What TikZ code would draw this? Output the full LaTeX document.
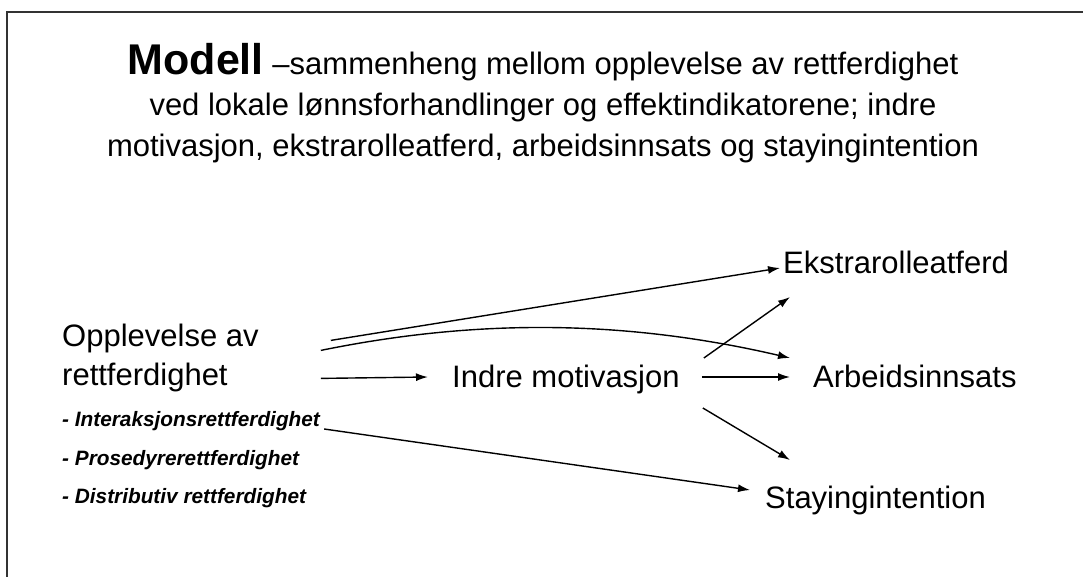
\documentclass[tikz,border=0pt]{standalone}
\usepackage{fontspec}
\setmainfont{Liberation Sans}
\usetikzlibrary{arrows.meta}

\begin{document}
\begin{tikzpicture}[x=1pt,y=-1pt,
  arr/.style={-{Latex[length=12pt,width=8pt]},line width=1.4pt},
  big/.style={font=\fontsize{31}{39}\selectfont,inner sep=0pt},
  sub/.style={font=\fontsize{20.8}{24}\selectfont\bfseries\itshape,inner sep=0pt,anchor=base west}]
\useasboundingbox (0,0) rectangle (1083,577);
\draw [line width=1.5pt,black!80] (7,577) -- (7,12) -- (1083,12);

% title
\node (title) [big,align=center,anchor=north,font=\fontsize{31}{41}\selectfont] at (543,43)
  {{\fontsize{43}{43}\selectfont\bfseries Modell} --sammenheng mellom opplevelse av rettferdighet\\
   ved lokale lønnsforhandlinger og effektindikatorene; indre\\
   motivasjon, ekstrarolleatferd, arbeidsinnsats og stayingintention};

% nodes
\node (opp) [big,align=left,anchor=north west] at (62,323.4) {Opplevelse av\\rettferdighet};
\node (inter) [sub] at (62,426) {- Interaksjonsrettferdighet};
\node (pros) [sub] at (62,465) {- Prosedyrerettferdighet};
\node (distr) [sub] at (62,503) {- Distributiv rettferdighet};
\node (indre) [big,anchor=base west] at (452,387) {Indre motivasjon};
\node (ekstra) [big,anchor=base west] at (783,273) {Ekstrarolleatferd};
\node (arbeid) [big,anchor=base west] at (813,387) {Arbeidsinnsats};
\node (staying) [big,anchor=base west] at (765,508) {Stayingintention};

% arrows
\draw [arr] ([xshift=72pt,yshift=-17pt]opp.north east) -- ([xshift=-3pt,yshift=5pt]ekstra.base west);
\draw [arr] ([xshift=62pt,yshift=-27pt]opp.north east) .. controls (460,322) and (610,316) .. ([xshift=-23pt,yshift=29pt]arbeid.base west);
\draw [arr] ([xshift=62pt,yshift=-55pt]opp.north east) -- ([xshift=-24pt,yshift=10pt]indre.base west);
\draw [arr] ([xshift=22pt,yshift=10pt]indre.base east) -- ([xshift=-23pt,yshift=10pt]arbeid.base west);
\draw [arr] ([xshift=24pt,yshift=29pt]indre.base east) -- ([xshift=7pt,yshift=-24pt]ekstra.base west);
\draw [arr] ([xshift=23pt,yshift=-21pt]indre.base east) -- ([xshift=25pt,yshift=48pt]staying.base west);
\draw [arr] ([xshift=4pt,yshift=-3pt]inter.base east) -- ([xshift=-15pt,yshift=18pt]staying.base west);
\end{tikzpicture}
\end{document}
